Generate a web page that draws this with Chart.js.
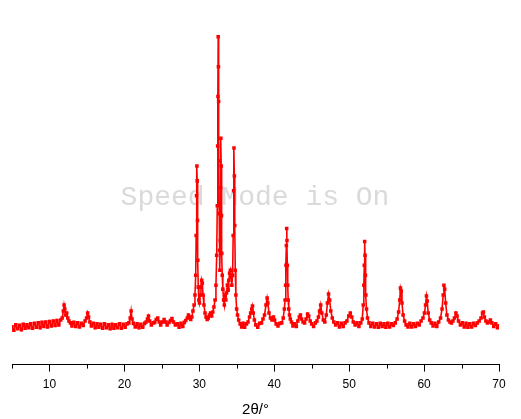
<!DOCTYPE html>
<html>
<head>
<meta charset="utf-8">
<script src="https://cdn.jsdelivr.net/npm/chart.js@4.4.0/dist/chart.umd.min.js"></script>
<style>
  html, body { margin: 0; padding: 0; background: #fff; }
  #wrap { width: 521px; height: 419px; }
</style>
</head>
<body>
<div id="wrap"><canvas id="xrdChart" width="521" height="419"></canvas></div>
<script>
// XRD pattern (2theta in degrees, intensity in counts)
const twoTheta = [
    5.00, 5.25, 5.50, 5.75, 6.00, 6.25, 6.50, 6.75, 7.00, 7.25,
    7.50, 7.75, 8.00, 8.25, 8.50, 8.75, 9.00, 9.25, 9.50, 9.75,
    10.00, 10.25, 10.50, 10.75, 11.00, 11.25, 11.50, 11.70, 11.85, 11.95,
    12.05, 12.15, 12.30, 12.45, 12.60, 12.80, 13.00, 13.25, 13.50, 13.75,
    14.00, 14.25, 14.50, 14.75, 14.95, 15.10, 15.22, 15.40, 15.60, 15.85,
    16.10, 16.35, 16.60, 16.85, 17.10, 17.35, 17.60, 17.85, 18.10, 18.35,
    18.60, 18.85, 19.10, 19.35, 19.60, 19.85, 20.10, 20.35, 20.60, 20.78,
    20.90, 21.02, 21.20, 21.45, 21.70, 21.95, 22.20, 22.45, 22.70, 22.90,
    23.08, 23.22, 23.38, 23.60, 23.85, 24.05, 24.25, 24.45, 24.65, 24.85,
    25.10, 25.30, 25.50, 25.70, 25.95, 26.15, 26.35, 26.55, 26.80, 27.05,
    27.30, 27.55, 27.80, 28.00, 28.20, 28.40, 28.55, 28.70, 28.85, 29.00,
    29.15, 29.30, 29.42, 29.52, 29.58, 29.63, 29.68, 29.72, 29.76, 29.80,
    29.86, 29.94, 30.02, 30.12, 30.22, 30.32, 30.40, 30.50, 30.62, 30.76,
    30.90, 31.05, 31.20, 31.35, 31.50, 31.65, 31.80, 31.95, 32.10, 32.22,
    32.32, 32.40, 32.45, 32.49, 32.52, 32.55, 32.58, 32.62, 32.66, 32.70,
    32.75, 32.80, 32.84, 32.88, 32.92, 32.96, 33.00, 33.06, 33.14, 33.24,
    33.34, 33.44, 33.54, 33.64, 33.74, 33.84, 33.94, 34.04, 34.14, 34.24,
    34.34, 34.44, 34.52, 34.58, 34.63, 34.68, 34.73, 34.80, 34.88, 34.98,
    35.10, 35.25, 35.45, 35.65, 35.85, 36.05, 36.30, 36.50, 36.70, 36.85,
    37.00, 37.10, 37.20, 37.35, 37.55, 37.80, 38.05, 38.30, 38.50, 38.70,
    38.90, 39.05, 39.15, 39.30, 39.50, 39.70, 39.90, 40.05, 40.25, 40.50,
    40.75, 41.00, 41.20, 41.35, 41.45, 41.52, 41.57, 41.62, 41.66, 41.70,
    41.75, 41.80, 41.86, 41.94, 42.04, 42.15, 42.30, 42.50, 42.70, 42.95,
    43.15, 43.35, 43.50, 43.65, 43.85, 44.05, 44.25, 44.45, 44.60, 44.80,
    45.00, 45.25, 45.50, 45.70, 45.90, 46.05, 46.20, 46.35, 46.55, 46.75,
    46.95, 47.10, 47.25, 47.40, 47.55, 47.75, 47.95, 48.20, 48.45, 48.70,
    48.95, 49.20, 49.45, 49.70, 49.95, 50.15, 50.35, 50.55, 50.80, 51.05,
    51.30, 51.55, 51.75, 51.88, 51.96, 52.02, 52.07, 52.12, 52.17, 52.23,
    52.32, 52.45, 52.65, 52.90, 53.15, 53.40, 53.65, 53.90, 54.15, 54.40,
    54.65, 54.90, 55.15, 55.40, 55.65, 55.90, 56.15, 56.40, 56.60, 56.75,
    56.85, 56.95, 57.05, 57.20, 57.40, 57.60, 57.85, 58.10, 58.35, 58.60,
    58.85, 59.10, 59.35, 59.60, 59.85, 60.05, 60.20, 60.32, 60.42, 60.55,
    60.75, 60.95, 61.20, 61.45, 61.70, 61.95, 62.20, 62.40, 62.55, 62.65,
    62.75, 62.88, 63.05, 63.25, 63.45, 63.65, 63.85, 64.05, 64.25, 64.40,
    64.60, 64.85, 65.10, 65.35, 65.60, 65.85, 66.10, 66.35, 66.60, 66.85,
    67.10, 67.35, 67.60, 67.80, 67.92, 68.05, 68.25, 68.45, 68.65, 68.85,
    69.05, 69.30, 69.55, 69.80, 70.00
];
const counts = [
    380, 345, 400, 360, 395, 350, 405, 365, 400, 370,
    410, 365, 415, 375, 420, 370, 425, 385, 430, 380,
    435, 390, 440, 395, 445, 400, 450, 470, 540, 600,
    560, 500, 520, 470, 440, 420, 390, 425, 385, 420,
    380, 415, 395, 440, 470, 520, 480, 430, 390, 415,
    370, 410, 375, 405, 365, 410, 370, 400, 360, 405,
    365, 400, 370, 410, 365, 405, 375, 410, 420, 470,
    540, 460, 415, 380, 410, 370, 405, 375, 415, 430,
    460, 490, 440, 400, 420, 425, 455, 470, 430, 400,
    430, 455, 430, 400, 425, 445, 465, 430, 400, 410,
    375, 415, 385, 425, 445, 470, 500, 480, 455, 480,
    540, 600, 700, 900, 1300, 1700, 2000, 1850, 1450, 1050,
    780, 650, 620, 700, 780, 850, 820, 700, 600, 520,
    480, 455, 470, 500, 520, 490, 530, 580, 650, 800,
    1100, 1600, 2200, 2700, 3300, 3000, 2650, 2050, 1520, 1150,
    950, 1250, 1780, 2280, 2000, 1500, 1120, 900, 760, 650,
    600, 700, 650, 720, 800, 750, 850, 920, 950, 880,
    800, 900, 1300, 1750, 2180, 1900, 1400, 950, 700, 560,
    500, 450, 410, 380, 415, 375, 410, 430, 480, 520,
    560, 590, 520, 450, 400, 375, 415, 420, 460, 500,
    600, 670, 620, 520, 470, 450, 480, 450, 410, 390,
    415, 420, 470, 560, 650, 800, 1000, 1200, 1370, 1250,
    1000, 800, 650, 560, 500, 460, 430, 390, 410, 385,
    440, 480, 500, 460, 430, 420, 460, 510, 490, 440,
    410, 385, 420, 440, 480, 540, 600, 520, 450, 430,
    500, 620, 710, 650, 540, 470, 430, 400, 420, 380,
    415, 385, 420, 440, 490, 520, 480, 430, 400, 420,
    385, 420, 460, 600, 800, 1000, 1240, 1100, 900, 700,
    560, 470, 420, 385, 415, 380, 410, 375, 415, 385,
    410, 375, 415, 380, 410, 395, 420, 460, 530, 650,
    770, 740, 620, 500, 440, 400, 380, 415, 380, 410,
    385, 415, 400, 440, 470, 520, 600, 690, 640, 520,
    450, 420, 390, 415, 385, 430, 470, 560, 700, 800,
    760, 620, 500, 450, 430, 420, 440, 470, 520, 490,
    440, 400, 420, 380, 415, 375, 410, 380, 415, 395,
    420, 440, 470, 520, 530, 480, 440, 420, 430, 450,
    420, 385, 410, 370, 390
];
const xTicks = [10, 20, 30, 40, 50, 60, 70];

if (twoTheta.length !== counts.length) {
    console.warn('data length mismatch', twoTheta.length, counts.length);
}

// grey watermark behind the curve
const watermark = {
    id: 'watermark',
    beforeDatasetsDraw(chart) {
        const ctx = chart.ctx;
        ctx.save();
        ctx.font = '28px "Liberation Mono", "DejaVu Sans Mono", monospace';
        ctx.fillStyle = '#dadada';
        ctx.textAlign = 'center';
        ctx.textBaseline = 'alphabetic';
        ctx.fillText('Speed Mode is On', 255, 205);
        ctx.restore();
    }
};

// short minor ticks every 5 degrees
const minorTicks = {
    id: 'minorTicks',
    afterDraw(chart) {
        const x = chart.scales.x;
        const ctx = chart.ctx;
        const y0 = chart.chartArea.bottom;
        ctx.save();
        ctx.strokeStyle = '#000';
        ctx.lineWidth = 1;
        for (let v = 5; v <= 70; v += 10) {
            const px = Math.round(x.getPixelForValue(v)) + 0.5;
            ctx.beginPath();
            ctx.moveTo(px, y0);
            ctx.lineTo(px, y0 + 4);
            ctx.stroke();
        }
        ctx.restore();
    }
};

const ctxXrd = document.getElementById('xrdChart');
new Chart(ctxXrd, {
    type: 'line',
    data: {
        datasets: [{
            data: twoTheta.map((t, i) => ({ x: t, y: counts[i] })),
            borderColor: '#ff0000',
            backgroundColor: '#ff0000',
            borderWidth: 1.6,
            pointStyle: 'rect',
            pointRadius: 2.5,
            pointBorderWidth: 0,
            tension: 0,
        }]
    },
    options: {
        responsive: false,
        animation: false,
        layout: { padding: { top: 15, left: 12, right: 22, bottom: 0 } },
        plugins: {
            legend: { display: false },
            tooltip: { enabled: false }
        },
        scales: {
            x: {
                type: 'linear',
                min: 5,
                max: 70,
                afterBuildTicks: (scale) => {
                    scale.ticks = xTicks.map(v => ({ value: v }));
                },
                ticks: {
                    color: '#000',
                    font: { family: '"Liberation Sans", Arial', size: 12 },
                    padding: 6,
                    maxRotation: 0,
                },
                grid: {
                    drawOnChartArea: false,
                    drawTicks: true,
                    tickLength: 7,
                    tickColor: '#000',
                },
                border: { display: true, color: '#000', width: 1 },
                title: {
                    display: true,
                    text: '2θ/°',
                    color: '#000',
                    font: { family: '"Liberation Sans", Arial', size: 15 },
                    padding: { top: 3, bottom: 0 }
                }
            },
            y: {
                display: false,
                min: 0,
                max: 3520
            }
        }
    },
    plugins: [watermark, minorTicks]
});
</script>
</body>
</html>
